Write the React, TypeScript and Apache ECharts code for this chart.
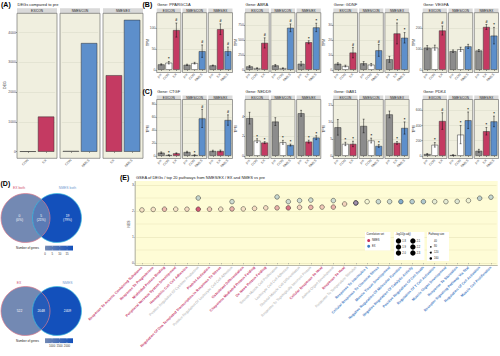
import React, { useEffect, useRef } from "react";
import * as echarts from "echarts";

const FONT = "'Liberation Sans', Arial, Helvetica, sans-serif";
const GROUP_COLOR: Record<string, string> = { pre: "#8c8c8c", CON: "#ffffff", EX: "#c43a62", NMES: "#5d8fcb" };
const PANEL_BG = "#f0efdf";
const STRIP_BG = "#d9d9d9";
const BORDER = "#5e5e5e";
const GRID_COL = "#d9d8c6";

// ---------- Panel A: DEG counts
const degFacets = ["EX/CON", "NMES/CON", "NMES/EX"];
const degCategories = [["CON", "EX"], ["CON", "NMES"], ["EX", "NMES"]];
const degCounts = [[12, 1180], [25, 3650], [2570, 4430]];
const degAxisMax = 4650;
const degAxisStep = 1000;

// ---------- Panels B / C: TPM per gene
const tpmFacets = ["EX/CON", "NMES/CON", "NMES/EX"];
const tpmCategories = [["pre", "CON", "EX"], ["pre", "CON", "NMES"], ["pre", "EX", "NMES"]];
const genesB = ["PPARGC1A", "ABRA", "GDNF", "VEGFA"];
const genesC = ["CTGF", "NEDD9", "GAB1", "PDK4"];
const axisMaxB = [138, 956, 38.2, 276];
const axisStepB = [50, 250, 10, 100];
const axisMaxC = [86.6, 5.76, 16.6, 745];
const axisStepC = [20, 2, 5, 200];

const PPARGC1A_mean = [[13, 17, 96], [12, 16, 45], [10.5, 98, 45]];
const PPARGC1A_se = [[1.5, 3, 17], [1.5, 2, 15], [1, 13, 10]];
const PPARGC1A_sig = [["", "*", "#"], ["", "", "#"], ["", "#", "#"]];
const ABRA_mean = [[56, 27, 450], [73, 27, 703], [101, 461, 709]];
const ABRA_se = [[15, 6, 85], [15, 5, 65], [35, 25, 70]];
const ABRA_sig = [["", "", "#"], ["", "", "#"], ["", "*", "*"]];
const GDNF_mean = [[4.0, 2.5, 11.5], [4.3, 3.4, 13], [7, 24.3, 21.4]];
const GDNF_se = [[0.7, 0.6, 3.5], [1.2, 0.8, 4], [2, 7, 3.5]];
const GDNF_sig = [["", "", "#"], ["", "", "#"], ["", "*", "*"]];
const VEGFA_mean = [[107, 107, 190], [90, 99, 113], [93, 207, 165]];
const VEGFA_se = [[10, 12, 22], [6, 10, 10], [5, 12, 40]];
const VEGFA_sig = [["", "", "#"], ["", "", ""], ["", "#", "*"]];
const CTGF_mean = [[4.8, 1.2, 3.8], [5.8, 1.2, 57.5], [7.4, 7.4, 55]];
const CTGF_se = [[1.2, 0.4, 0.8], [1.2, 0.4, 14], [1.2, 1.5, 8]];
const CTGF_sig = [["", "*", ""], ["", "*", "#"], ["", "", "#"]];
const NEDD9_mean = [[3.85, 1.55, 1.35], [3.5, 1.38, 1.1], [4.35, 1.45, 1.86]];
const NEDD9_se = [[0.6, 0.2, 0.1], [0.4, 0.2, 0.1], [0.3, 0.15, 0.2]];
const NEDD9_sig = [["", "*", "*"], ["", "*", "*"], ["", "*", "*"]];
const GAB1_mean = [[8.4, 3.5, 3.5], [8.8, 4.5, 2.9], [12.2, 3.8, 8.2]];
const GAB1_se = [[2.3, 0.5, 0.8], [2, 0.7, 0.4], [1, 0.4, 1.8]];
const GAB1_sig = [["", "*", "*"], ["", "*", "*"], ["", "*", "*"]];
const PDK4_mean = [[23, 145, 460], [10, 280, 470], [66, 325, 455]];
const PDK4_se = [[8, 30, 110], [4, 120, 110], [20, 50, 70]];
const PDK4_sig = [["", "*", "#"], ["", "*", "*"], ["", "*", "*"]];

const geneMean: Record<string, number[][]> = { PPARGC1A: PPARGC1A_mean, ABRA: ABRA_mean, GDNF: GDNF_mean, VEGFA: VEGFA_mean, CTGF: CTGF_mean, NEDD9: NEDD9_mean, GAB1: GAB1_mean, PDK4: PDK4_mean };
const geneSe: Record<string, number[][]> = { PPARGC1A: PPARGC1A_se, ABRA: ABRA_se, GDNF: GDNF_se, VEGFA: VEGFA_se, CTGF: CTGF_se, NEDD9: NEDD9_se, GAB1: GAB1_se, PDK4: PDK4_se };
const geneSig: Record<string, string[][]> = { PPARGC1A: PPARGC1A_sig, ABRA: ABRA_sig, GDNF: GDNF_sig, VEGFA: VEGFA_sig, CTGF: CTGF_sig, NEDD9: NEDD9_sig, GAB1: GAB1_sig, PDK4: PDK4_sig };

// ---------- Panel D: Venn diagrams
const vennTopSets = ["EX both", "NMES both"];
const vennTopCounts = [0, 5, 19];
const vennTopTicks = [0, 5, 10, 15];
const vennBotSets = ["EX", "NMES"];
const vennBotCounts = [522, 2048, 2409];
const vennBotTicks = [1000, 1500, 2000];

// ---------- Panel E: GSEA
const pathways = [
  "Response To Arsenic Containing Substance", "Response To Progesterone", "Misfolded Protein Binding",
  "Peripheral Nervous System Development", "Homophilic Cell Cell Adhesion", "Positive Regulation Of Cytokine Production",
  "Platelet Activation", "Regulation Of Dna Templated Transcription In Response To Stress",
  "Positive Regulation Of Leukocyte Cell Cell Adhesion", "Osteoblast Differentiation", "Chaperone Mediated Protein Folding",
  "De Novo Protein Folding", "Smooth Muscle Cell Proliferation", "Leukocyte Cell Cell Adhesion",
  "Skeletal Muscle Cell Differentiation", "Response To Topologically Incorrect Protein", "Cellular Response To Heat",
  "Animal Organ Development", "Response To Heat", "Response To Temperature Stimulus",
  "Response To Interleukin 1", "Cellular Response To Chemical Stress", "Muscle Tissue Development",
  "Negative Regulation Of Molecular Function", "Negative Regulation Of Catalytic Activity", "Positive Regulation Of Cell Death",
  "Regulation Of T Cell Activation", "Muscle Organ Development", "Response To Starvation",
  "Receptor Signaling Pathway Via Stat", "Regulation Of Cell Activation", "Muscle Cell Proliferation",
];
const pathwayGroup = ["n", "n", "n", "n", "n", "g", "n", "n", "g", "n", "n", "n", "g", "g", "g", "g", "n", "g", "n", "g",
  "e", "e", "e", "e", "e", "e", "e", "e", "e", "e", "e", "e"];
const nesNMES: (number | null)[] = [2.04, 2.06, 2.07, 2.07, 2.07, 2.07, 2.07, 2.07, 2.08, 2.08, 2.10, 2.12, 2.12, 2.12, 2.14, 2.14, 2.15, 2.15, 2.27, 2.31,
  null, null, null, null, null, null, null, null, null, null, null, null];
const alphaNMES = [0.15, 0.15, 0.4, 0.15, 0.2, 1.0, 0.3, 0.15, 0.45, 0.15, 0.2, 0.2, 0.45, 0.85, 0.25, 0.45, 0.3, 0.45, 0.25, 0.6,
  0, 0, 0, 0, 0, 0, 0, 0, 0, 0, 0, 0];
const nesEX: (number | null)[] = [null, null, null, null, null, 2.50, null, null, 2.36, null, null, null, 2.54, 2.36, 2.40, 2.42, null, 2.40, null, 2.31,
  2.36, 2.36, 2.36, 2.36, 2.36, 2.36, 2.36, 2.36, 2.37, 2.40, 2.49, 2.53];
const alphaEX = [0, 0, 0, 0, 0, 0.35, 0, 0, 0.3, 0, 0, 0, 0.35, 0.3, 0.3, 0.3, 0, 0.3, 0, 0.5,
  0.05, 0.35, 0.3, 0.8, 0.45, 0.5, 0.15, 0.15, 0.2, 0.1, 0.4, 0.35];
const pvalLegend = ["1.8", "1.9", "2.0", "2.1", "2.2", "2.3"];
const sizeLegend = ["40", "80", "120", "160"];

const NMES_PT = [200, 50, 92];
const EX_PT = [61, 125, 196];

function lensPath(r: number, d: number) {
  const hh = Math.sqrt(r * r - (d / 2) * (d / 2));
  return `M0 ${-hh} A${r} ${r} 0 0 1 0 ${hh} A${r} ${r} 0 0 1 0 ${-hh} Z`;
}
const VR = 24.5, VD = 31.5;
echarts.graphic.registerShape("vennLens", echarts.graphic.extendPath(lensPath(VR, VD), {}) as any);

function hexToRgb(h: string) {
  const n = parseInt(h.slice(1), 16);
  return [(n >> 16) & 255, (n >> 8) & 255, n & 255];
}
function mixHex(a: string, b: string, t: number) {
  const A = hexToRgb(a), B = hexToRgb(b);
  const c = A.map((v, i) => Math.round(v + (B[i] - v) * t));
  return `rgb(${c[0]},${c[1]},${c[2]})`;
}
const VENN_LOW = "#7389b3";
const VENN_HIGH = "#1350bb";

function buildOption() {
  const grid: any[] = [], xAxis: any[] = [], yAxis: any[] = [], series: any[] = [], graphic: any[] = [];
  const text = (x: number, y: number, s: string, o: any = {}) =>
    graphic.push({
      type: "text", x, y, z: 20, silent: true, rotation: o.rotation || 0,
      style: {
        text: s, fontSize: o.size || 4, fontFamily: FONT, fontWeight: o.weight || "normal",
        fill: o.color || "#222", align: o.align || "left", verticalAlign: o.valign || "middle",
        lineHeight: o.lineHeight,
      },
    });
  const rect = (x: number, y: number, w: number, h: number, fill: any, stroke?: string, lw?: number, z?: number) =>
    graphic.push({ type: "rect", z: z ?? -10, silent: true, shape: { x, y, width: w, height: h }, style: { fill, stroke: stroke || "none", lineWidth: lw || 0 } });

  type Facet = {
    x: number; top: number; bottom: number; w: number; cats: string[]; vals: number[];
    errs?: number[]; sigs?: string[]; yMax: number; yStep: number; showY: boolean; strip: string; stripH: number;
  };
  const addFacet = (f: Facet) => {
    const h = f.bottom - f.top;
    const zeroY = f.top + (h * 1.05) / 1.1;
    const n = f.cats.length;
    const unit = f.w / (n + 0.2);
    const inset = 0.1 * unit;
    const gi = grid.length;
    grid.push({ left: f.x + inset, top: f.top, width: n * unit, height: zeroY - f.top });
    xAxis.push({
      gridIndex: gi, type: "category", data: f.cats, offset: f.bottom - zeroY,
      axisLine: { show: false },
      axisTick: { show: true, alignWithLabel: true, length: 1.2, lineStyle: { color: "#333", width: 0.5 } },
      axisLabel: { interval: 0, rotate: 45, fontSize: 3.4, margin: 1.5, color: "#4d4d4d", fontFamily: FONT },
      splitLine: { show: false },
    });
    yAxis.push({
      gridIndex: gi, type: "value", min: 0, max: f.yMax, interval: f.yStep, offset: inset,
      axisLine: { show: false },
      axisTick: { show: f.showY, length: 1.2, lineStyle: { color: "#333", width: 0.5 } },
      axisLabel: { show: f.showY, fontSize: 3.4, margin: 1.2, color: "#4d4d4d", fontFamily: FONT, showMaxLabel: false, formatter: (v: number) => String(v) },
      splitLine: { show: true, lineStyle: { color: GRID_COL, width: 0.5 } },
    });
    rect(f.x, f.top, f.w, h, PANEL_BG, undefined, 0, -10);
    rect(f.x, f.top, f.w, h, "none", BORDER, 0.6, 8);
    rect(f.x, f.top - f.stripH, f.w, f.stripH, STRIP_BG, undefined, 0, -10);
    text(f.x + f.w / 2, f.top - f.stripH / 2, f.strip, { size: 3.1, align: "center", color: "#1a1a1a" });
    series.push({
      type: "bar", xAxisIndex: gi, yAxisIndex: gi, silent: true, barWidth: 0.9 * unit,
      data: f.vals.map((v, i) => ({ value: v, itemStyle: { color: GROUP_COLOR[f.cats[i]] } })),
      itemStyle: { borderColor: "#333", borderWidth: 0.5 }, z: 2,
    });
    if (f.errs) {
      const sigs = f.sigs || [];
      series.push({
        type: "custom", xAxisIndex: gi, yAxisIndex: gi, silent: true, z: 4,
        data: f.vals.map((v, i) => [i, v, f.errs![i]]),
        renderItem: (params: any, api: any) => {
          const i = api.value(0), v = api.value(1), e = api.value(2);
          const t = api.coord([i, v + e]);
          const b = api.coord([i, v - e]);
          const cw = unit * 0.12;
          const ls = { stroke: "#111", lineWidth: 0.5 };
          const children: any[] = [
            { type: "line", shape: { x1: t[0], y1: t[1], x2: b[0], y2: b[1] }, style: ls },
            { type: "line", shape: { x1: t[0] - cw, y1: t[1], x2: t[0] + cw, y2: t[1] }, style: ls },
            { type: "line", shape: { x1: b[0] - cw, y1: b[1], x2: b[0] + cw, y2: b[1] }, style: ls },
          ];
          const s = sigs[params.dataIndex];
          if (s) children.push({ type: "text", x: t[0], y: t[1] - 0.6, style: { text: s, fontSize: s === "#" ? 3.6 : 4.2, fontFamily: FONT, fontWeight: "bold", fill: "#111", align: "center", verticalAlign: "bottom" } });
          return { type: "group", children };
        },
      });
    }
  };

  // ----- Panel A
  text(1, 4.6, "(A)", { size: 7, weight: "bold", color: "#000" });
  text(17.5, 4.6, "DEGs compared to pre", { size: 4, color: "#222" });
  const aX = [17, 60, 103];
  degFacets.forEach((name, k) =>
    addFacet({ x: aX[k], top: 13.3, bottom: 158.3, w: 40, cats: degCategories[k], vals: degCounts[k], yMax: degAxisMax, yStep: degAxisStep, showY: k === 0, strip: name, stripH: 5 })
  );
  text(5, 85, "DEG", { size: 3.6, rotation: Math.PI / 2, align: "center", color: "#222" });

  // ----- Panels B, C
  const BLOCK_X = [156.7, 245, 333.3, 422.7];
  const FACET_W = 24.2, FACET_STEP = 25.8;
  const rows = [
    { label: "(B)", labelY: 4.8, genes: genesB, max: axisMaxB, step: axisStepB, top: 12.7, bottom: 72.5, titleY: 4.2, stripH: 4.2 },
    { label: "(C)", labelY: 91.5, genes: genesC, max: axisMaxC, step: axisStepC, top: 99.5, bottom: 158.5, titleY: 91.2, stripH: 4.0 },
  ];
  rows.forEach((r) => {
    text(142.5, r.labelY, r.label, { size: 7, weight: "bold", color: "#000" });
    r.genes.forEach((g, gi) => {
      const bx = BLOCK_X[gi];
      text(bx + 0.5, r.titleY, "Gene: " + g, { size: 4, color: "#222" });
      tpmFacets.forEach((fname, k) =>
        addFacet({
          x: bx + k * FACET_STEP, top: r.top, bottom: r.bottom, w: FACET_W, cats: tpmCategories[k],
          vals: geneMean[g][k], errs: geneSe[g][k], sigs: geneSig[g][k], yMax: r.max[gi], yStep: r.step[gi],
          showY: k === 0, strip: fname, stripH: r.stripH,
        })
      );
      text(bx - 9, (r.top + r.bottom) / 2, "TPM", { size: 3.3, rotation: Math.PI / 2, align: "center", color: "#222" });
    });
  });

  // ----- Panel D: Venn diagrams
  text(0.5, 183, "(D)", { size: 7, weight: "bold", color: "#000" });
  const venn = (cy: number, sets: string[], counts: number[], ticks: number[], showPct: boolean, legY: number, labelY: number) => {
    const lo = Math.min(...counts), hi = Math.max(...counts);
    const tt = (c: number) => (c - lo) / (hi - lo);
    const total = counts.reduce((a, b) => a + b, 0);
    const lx = 25.5, rx = lx + VD;
    graphic.push({ type: "circle", z: 1, silent: true, shape: { cx: lx, cy, r: VR }, style: { fill: mixHex(VENN_LOW, VENN_HIGH, tt(counts[0])) } });
    graphic.push({ type: "circle", z: 2, silent: true, shape: { cx: rx, cy, r: VR }, style: { fill: mixHex(VENN_LOW, VENN_HIGH, tt(counts[2])) } });
    graphic.push({ type: "vennLens", z: 3, silent: true, x: (lx + rx) / 2, y: cy, style: { fill: mixHex(VENN_LOW, VENN_HIGH, tt(counts[1])) } });
    graphic.push({ type: "circle", z: 4, silent: true, shape: { cx: lx, cy, r: VR }, style: { fill: "none", stroke: "#e07b8c", lineWidth: 0.7 } });
    graphic.push({ type: "circle", z: 4, silent: true, shape: { cx: rx, cy, r: VR }, style: { fill: "none", stroke: "#40c2df", lineWidth: 0.7 } });
    text(19, labelY, sets[0], { size: 3.4, align: "center", color: "#d0506f" });
    text(67.5, labelY, sets[1], { size: 3.4, align: "center", color: "#6f9ad0" });
    const px = [19.5, 41.2, 67.5];
    counts.forEach((c, i) => {
      const s = showPct ? `${c}\n(${Math.round((c / total) * 100)}%)` : `${c}`;
      text(px[i], cy - 0.5, s, { size: 3.3, align: "center", color: "#ffffff", lineHeight: 4 });
    });
    const bx = 45, bw = 28;
    text(16, legY + 2.3, "Number of genes", { size: 3, color: "#222" });
    graphic.push({
      type: "rect", z: 5, silent: true, shape: { x: bx, y: legY, width: bw, height: 4.8 },
      style: { fill: new echarts.graphic.LinearGradient(0, 0, 1, 0, [{ offset: 0, color: VENN_LOW }, { offset: 1, color: VENN_HIGH }]) },
    });
    ticks.forEach((t) => {
      const x = bx + tt(t) * bw;
      graphic.push({ type: "line", z: 6, silent: true, shape: { x1: x, y1: legY, x2: x, y2: legY + 1 }, style: { stroke: "#fff", lineWidth: 0.4 } });
      graphic.push({ type: "line", z: 6, silent: true, shape: { x1: x, y1: legY + 3.8, x2: x, y2: legY + 4.8 }, style: { stroke: "#fff", lineWidth: 0.4 } });
      text(x, legY + 7.5, String(t), { size: 2.8, align: "center", color: "#333" });
    });
  };
  venn(218, vennTopSets, vennTopCounts, vennTopTicks, true, 245.7, 188.3);
  venn(311, vennBotSets, vennBotCounts, vennBotTicks, false, 338.3, 282.7);

  // ----- Panel E
  text(120, 177.5, "(E)", { size: 7, weight: "bold", color: "#000" });
  text(136, 177.8, "GSEA of DEGs / top 20 pathways from NMES/EX / EX and NMES vs pre", { size: 4, color: "#222" });
  const eL = 135.2, eR = 497.7, eT = 181, eB = 265.5;
  const eUnit = (eR - eL) / (pathways.length + 0.2);
  const eGi = grid.length;
  grid.push({ left: eL + 0.1 * eUnit, top: 185, width: pathways.length * eUnit, height: 78 });
  rect(eL, eT, eR - eL, eB - eT, "#fefcd6", undefined, 0, -10);
  graphic.push({ type: "line", z: 8, silent: true, shape: { x1: eL, y1: eB, x2: eR, y2: eB }, style: { stroke: "#b9b9a8", lineWidth: 1.2 } });
  graphic.push({ type: "line", z: 8, silent: true, shape: { x1: eL, y1: eT, x2: eL, y2: eB }, style: { stroke: "#b9b9a8", lineWidth: 1.2 } });
  xAxis.push({
    gridIndex: eGi, type: "category", data: pathways, offset: eB - 263,
    axisLine: { show: false },
    axisTick: { show: true, alignWithLabel: true, length: 1.3, lineStyle: { color: "#8a8a8a", width: 0.5 } },
    axisLabel: {
      interval: 0, rotate: 45, margin: 1.6, fontSize: 3.6, fontFamily: FONT,
      formatter: (v: string, i: number) => `{${pathwayGroup[i]}|${v}}`,
      rich: {
        n: { color: "#c73a6c", fontSize: 3.6, fontWeight: "bold", fontFamily: FONT },
        g: { color: "#a9a9a9", fontSize: 3.6, fontFamily: FONT },
        e: { color: "#4a7ec4", fontSize: 3.6, fontWeight: "bold", fontFamily: FONT },
      },
    },
    splitLine: { show: false },
  });
  yAxis.push({
    gridIndex: eGi, type: "value", min: 0, max: 3, interval: 1, offset: 0.1 * eUnit,
    axisLine: { show: false },
    axisTick: { show: true, length: 1.2, lineStyle: { color: "#8a8a8a", width: 0.5 } },
    axisLabel: { fontSize: 3.4, margin: 1.4, color: "#4d4d4d", fontFamily: FONT },
    splitLine: { show: true, lineStyle: { color: "#e3dfb3", width: 0.5 } },
    minorTick: { show: false, splitNumber: 2 },
    minorSplitLine: { show: true, lineStyle: { color: "#e3dfb3", width: 0.4 } },
  });
  text(128.5, 224, "NES", { size: 3.3, rotation: Math.PI / 2, align: "center", color: "#222" });
  const rgba = (c: number[], a: number) => `rgba(${c[0]},${c[1]},${c[2]},${a})`;
  const pts = (nes: (number | null)[], alpha: number[], col: number[]) =>
    nes.map((v, i) => (v == null ? null : { value: [i, v], itemStyle: { color: rgba(col, alpha[i]) } })).filter((d) => d);
  series.push({
    type: "scatter", xAxisIndex: eGi, yAxisIndex: eGi, symbolSize: 4.6, silent: true, z: 3,
    itemStyle: { borderColor: "#1a1a1a", borderWidth: 0.55 }, data: pts(nesNMES, alphaNMES, NMES_PT),
  });
  series.push({
    type: "scatter", xAxisIndex: eGi, yAxisIndex: eGi, symbolSize: 4.6, silent: true, z: 4,
    itemStyle: { borderColor: "#1a1a1a", borderWidth: 0.55 }, data: pts(nesEX, alphaEX, EX_PT),
  });

  // legends of E
  rect(365, 232, 25.5, 18.5, "#ffffff", undefined, 0, 9);
  text(366.5, 234.6, "Correlation set", { size: 2.7, color: "#222" });
  graphic.push({ type: "circle", z: 10, silent: true, shape: { cx: 368.7, cy: 240.6, r: 1.5 }, style: { fill: rgba(NMES_PT, 1) } });
  graphic.push({ type: "circle", z: 10, silent: true, shape: { cx: 368.7, cy: 246.2, r: 1.5 }, style: { fill: rgba(EX_PT, 1) } });
  text(372, 240.6, "NMES", { size: 2.6, color: "#222" });
  text(372, 246.2, "EX", { size: 2.6, color: "#222" });

  rect(394, 232, 30.5, 28, "#ffffff", undefined, 0, 9);
  text(395.5, 234.6, "-log10(p.adj)", { size: 2.7, color: "#222" });
  pvalLegend.forEach((lab, i) => {
    const col = Math.floor(i / 3), row = i % 3;
    const cx = 398.5 + col * 14.4, cy = 241 + row * 6;
    graphic.push({ type: "circle", z: 10, silent: true, shape: { cx, cy, r: 2.7 }, style: { fill: "#000" } });
    text(cx + 3.8, cy, lab, { size: 2.6, color: "#222" });
  });

  rect(427, 232, 22, 29, "#ffffff", undefined, 0, 9);
  text(428.5, 234.6, "Pathway size", { size: 2.7, color: "#222" });
  sizeLegend.forEach((lab, i) => {
    const cy = 241 + i * 5.8;
    graphic.push({ type: "circle", z: 10, silent: true, shape: { cx: 430.8, cy, r: 0.5 + i * 0.25 }, style: { fill: "#000" } });
    text(434, cy, lab, { size: 2.6, color: "#222" });
  });

  return { animation: false, backgroundColor: "#ffffff", grid, xAxis, yAxis, series, graphic };
}

export default function App() {
  const ref = useRef<HTMLDivElement>(null);
  useEffect(() => {
    document.body.style.margin = "0";
    const chart = echarts.init(ref.current!, undefined, { renderer: "svg", width: 500, height: 356 });
    chart.setOption(buildOption() as any);
    return () => chart.dispose();
  }, []);
  return <div ref={ref} style={{ width: 500, height: 356 }} />;
}
